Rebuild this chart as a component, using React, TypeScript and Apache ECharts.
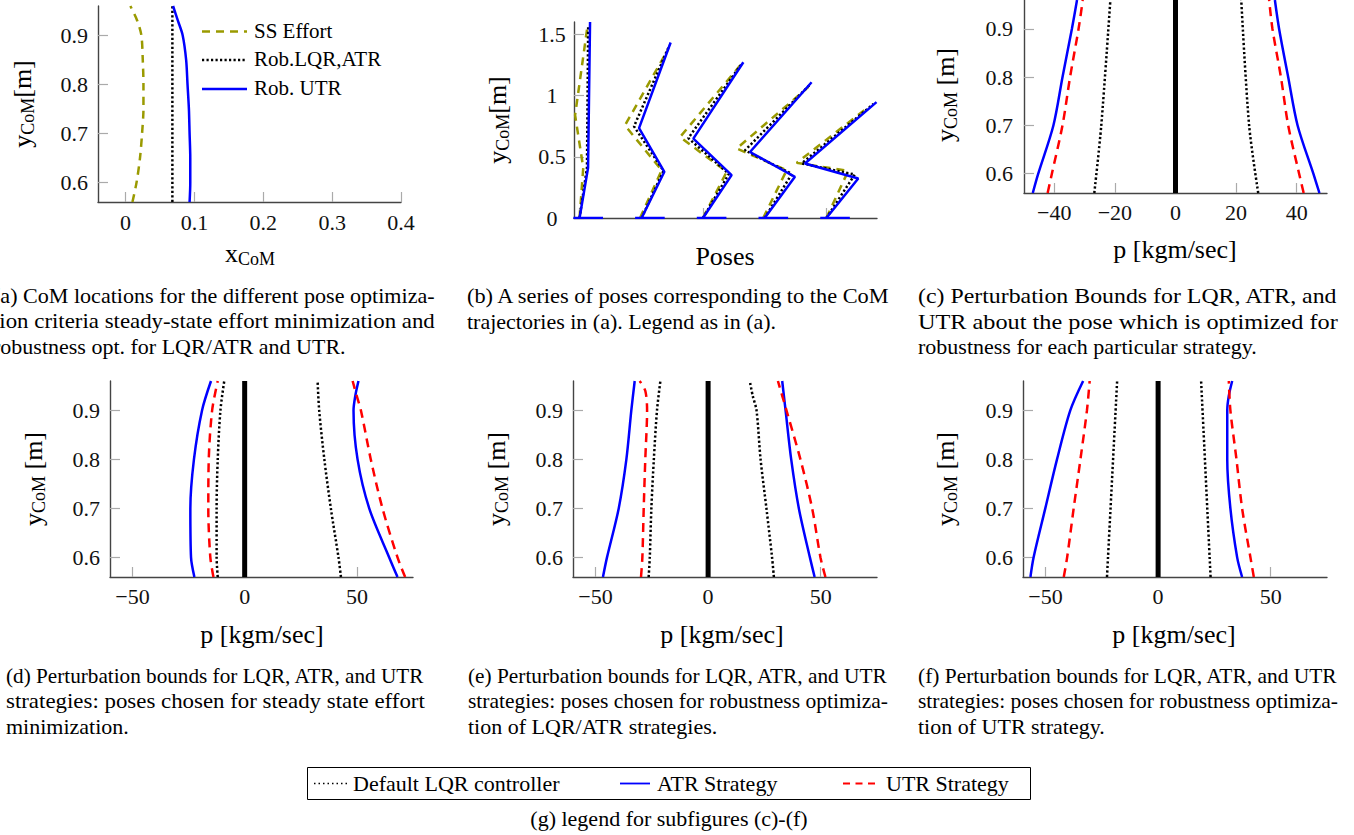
import React, { useEffect, useRef } from "react";
import * as echarts from "echarts";

const SERIF = "Liberation Serif";
const OLIVE = "#9a9a00";
const BLUE = "#0000ff";
const RED = "#ff0000";

// ---------- (a) CoM locations [x, y] ----------
const aSSEffort = [[0.010, 0.56], [0.016, 0.60], [0.021, 0.65], [0.024, 0.70], [0.026, 0.75], [0.026, 0.80], [0.025, 0.85], [0.023, 0.90], [0.017, 0.93], [0.007, 0.96]];
const aRobLQRATR = [[0.068, 0.56], [0.068, 0.96]];
const aRobUTR = [[0.093, 0.56], [0.094, 0.60], [0.094, 0.65], [0.093, 0.70], [0.092, 0.75], [0.090, 0.80], [0.088, 0.85], [0.083, 0.90], [0.076, 0.93], [0.069, 0.96]];

// ---------- (b) poses: ankle -> knee -> hip -> top ----------
const bSSPoses = [
  [[0.0, 0], [0.03, 0.41], [-0.036, 0.84], [0.062, 1.55]],
  [[0.49, 0], [0.665, 0.39], [0.368, 0.756], [0.719, 1.38]],
  [[1.0, 0], [1.192, 0.377], [0.814, 0.661], [1.30, 1.244]],
  [[1.488, 0], [1.678, 0.39], [1.273, 0.567], [1.853, 1.068]],
  [[2.0, 0], [2.177, 0.385], [1.759, 0.45], [2.339, 0.905]],
];
const bLQRPoses = [
  [[0.0, 0], [0.06, 0.41], [0.07, 1.57]],
  [[0.503, 0], [0.68, 0.385], [0.441, 0.748], [0.728, 1.41]],
  [[1.0, 0], [1.21, 0.36], [0.881, 0.652], [1.313, 1.258]],
  [[1.5, 0], [1.72, 0.36], [1.34, 0.552], [1.866, 1.088]],
  [[2.0, 0], [2.23, 0.355], [1.80, 0.446], [2.38, 0.93]],
];
const bUTRPoses = [
  [[0.0, 0], [0.069, 0.41], [0.085, 1.6]],
  [[0.503, 0], [0.687, 0.377], [0.482, 0.734], [0.738, 1.433]],
  [[1.0, 0], [1.232, 0.35], [0.922, 0.648], [1.327, 1.271]],
  [[1.5, 0], [1.745, 0.336], [1.381, 0.539], [1.88, 1.108]],
  [[2.0, 0], [2.258, 0.323], [1.826, 0.445], [2.406, 0.946]],
];
const bFeet = [[-0.05, 0.19], [0.45, 0.69], [0.95, 1.19], [1.45, 1.69], [1.95, 2.19]];

// ---------- (c) ----------
const cLQRLeft = [[-26.8, 0.56], [-24.5, 0.7], [-21.5, 0.96]];
const cLQRRight = [[27.3, 0.56], [24.3, 0.7], [21.7, 0.96]];
const cATRLeft = [[-47.1, 0.56], [-45.3, 0.6], [-40.3, 0.7], [-37.3, 0.8], [-34.2, 0.9], [-32.5, 0.96]];
const cATRRight = [[47.5, 0.56], [45.5, 0.6], [40.3, 0.7], [37.2, 0.8], [34.2, 0.9], [32.8, 0.96]];
const cUTRLeft = [[-42.2, 0.56], [-40.8, 0.6], [-37.3, 0.7], [-34.8, 0.8], [-32.0, 0.9], [-30.6, 0.96]];
const cUTRRight = [[42.3, 0.56], [40.8, 0.6], [37.2, 0.7], [34.8, 0.8], [32.0, 0.9], [30.9, 0.96]];

// ---------- (d) ----------
const dLQRLeft = [[-12.0, 0.56], [-12.5, 0.6], [-12.5, 0.7], [-12.0, 0.8], [-10.8, 0.9], [-9.1, 0.96]];
const dLQRRight = [[42.9, 0.56], [41.8, 0.6], [38.4, 0.7], [35.5, 0.8], [33.2, 0.9], [32.5, 0.96]];
const dATRLeft = [[-22.4, 0.56], [-23.9, 0.6], [-24.2, 0.7], [-22.6, 0.8], [-19.0, 0.9], [-15.0, 0.96]];
const dATRRight = [[68.1, 0.56], [64.4, 0.6], [55.5, 0.7], [50.3, 0.8], [48.5, 0.9], [49.3, 0.93], [50.7, 0.96]];
const dUTRLeft = [[-13.9, 0.56], [-15.3, 0.6], [-16.2, 0.7], [-16.0, 0.8], [-14.5, 0.9], [-12.0, 0.96]];
const dUTRRight = [[71.5, 0.56], [68.1, 0.6], [61.4, 0.7], [56.2, 0.8], [51.8, 0.9], [49.9, 0.93], [48.1, 0.96]];

// ---------- (e) ----------
const eLQRLeft = [[-26.4, 0.56], [-25.9, 0.6], [-25.2, 0.7], [-24.1, 0.8], [-22.7, 0.9], [-21.2, 0.96]];
const eLQRRight = [[29.2, 0.56], [28.4, 0.6], [25.9, 0.7], [23.3, 0.8], [21.5, 0.9], [19.8, 0.93], [18.5, 0.96]];
const eATRLeft = [[-46.7, 0.56], [-44.9, 0.6], [-39.7, 0.7], [-36.3, 0.8], [-34.1, 0.9], [-32.6, 0.96]];
const eATRRight = [[47.3, 0.56], [45.2, 0.6], [40.3, 0.7], [36.9, 0.8], [34.4, 0.9], [32.9, 0.96]];
const eUTRLeft = [[-29.8, 0.56], [-29.2, 0.6], [-28.6, 0.7], [-27.9, 0.8], [-27.1, 0.9], [-27.9, 0.94], [-30.4, 0.96]];
const eUTRRight = [[52.1, 0.56], [49.9, 0.6], [46.2, 0.7], [41.0, 0.8], [34.8, 0.9], [31.0, 0.96]];

// ---------- (f) ----------
const fLQRLeft = [[-22.7, 0.56], [-18.2, 0.96]];
const fLQRRight = [[23.3, 0.56], [19.1, 0.96]];
const fATRLeft = [[-56.7, 0.56], [-55.3, 0.6], [-50.1, 0.7], [-44.9, 0.8], [-39.0, 0.9], [-33.3, 0.96]];
const fATRRight = [[37.3, 0.56], [35.1, 0.6], [32.1, 0.7], [30.7, 0.8], [30.7, 0.9], [31.4, 0.93], [32.9, 0.96]];
const fUTRLeft = [[-41.9, 0.56], [-40.4, 0.6], [-37.5, 0.7], [-34.5, 0.8], [-31.6, 0.9], [-30.4, 0.96]];
const fUTRRight = [[42.5, 0.56], [41.0, 0.6], [37.3, 0.7], [34.8, 0.8], [32.1, 0.9], [31.4, 0.96]];

const zeroLine = [[0, 0.56], [0, 0.96]];

// ---------- ticks ----------
const aXTicks = [0, 0.1, 0.2, 0.3, 0.4];
const comYTicks = [0.6, 0.7, 0.8, 0.9];
const bXTicks = [0, 1, 2];
const bYTicks = [0, 0.5, 1, 1.5];
const cXTicks = [-40, -20, 0, 20, 40];
const dfXTicks = [-50, 0, 50];

// ---------- texts ----------
const legendA = ["SS Effort", "Rob.LQR,ATR", "Rob. UTR"];
const legendG = ["Default LQR controller", "ATR Strategy", "UTR Strategy"];
const capA = ["(a) CoM locations for the different pose optimiza-", "tion criteria steady-state effort minimization and", "robustness opt. for LQR/ATR and UTR."];
const capB = ["(b) A series of poses corresponding to the CoM", "trajectories in (a). Legend as in (a)."];
const capC = ["(c) Perturbation Bounds for LQR, ATR, and", "UTR about the pose which is optimized for", "robustness for each particular strategy."];
const capD = ["(d) Perturbation bounds for LQR, ATR, and UTR", "strategies: poses chosen for steady state effort", "minimization."];
const capE = ["(e) Perturbation bounds for LQR, ATR, and UTR", "strategies: poses chosen for robustness optimiza-", "tion of LQR/ATR strategies."];
const capF = ["(f) Perturbation bounds for LQR, ATR, and UTR", "strategies: poses chosen for robustness optimiza-", "tion of UTR strategy."];
const capG = "(g) legend for subfigures (c)-(f)";

let measureCtx: CanvasRenderingContext2D | null = null;
function measure(text: string, size: number): number {
  if (!measureCtx) measureCtx = document.createElement("canvas").getContext("2d");
  measureCtx!.font = `${size}px ${SERIF}`;
  return measureCtx!.measureText(text).width;
}

function txt(text: string, x: number, y: number, size: number, align = "left", extra: any = {}) {
  return {
    type: "text",
    x,
    y,
    silent: true,
    ...extra,
    style: {
      text,
      fontSize: size,
      fontFamily: SERIF,
      fill: "#000",
      align,
      textAlign: align,
      verticalAlign: "middle",
      textVerticalAlign: "middle",
    },
  };
}

function composite(parts: { t: string; s: number; dy: number }[], cx: number, cy: number, rotated: boolean) {
  const widths = parts.map((p) => measure(p.t, p.s));
  const total = widths.reduce((a, b) => a + b, 0);
  let acc = -total / 2;
  const children = parts.map((p, i) => {
    const el = txt(p.t, acc, p.dy, p.s);
    acc += widths[i];
    return el;
  });
  return { type: "group", x: cx, y: cy, rotation: rotated ? Math.PI / 2 : 0, children };
}

function caption(lines: string[], x0: number, x1: number, y0: number) {
  const size = 22;
  const lh = 25;
  return lines.map((line, i) => {
    const last = i === lines.length - 1;
    const nat = measure(line, size);
    const sx = last ? 1 : (x1 - x0) / nat;
    return txt(line, x0, y0 + i * lh, size, "left", { scaleX: sx, originX: 0 });
  });
}

const fmt = (v: number) => String(v).replace("-", "\u2212");

function xAxis(gi: number, min: number, max: number, ticks: number[], show = true, margin = 8) {
  return {
    type: "value",
    gridIndex: gi,
    min,
    max,
    axisLine: { show: true, onZero: false, lineStyle: { color: "#444", width: 1.4 } },
    axisTick: { show: true, inside: true, length: 10, customValues: ticks, lineStyle: { color: "#aaa", width: 1.2 } },
    axisLabel: { show, customValues: ticks, formatter: fmt, fontFamily: SERIF, fontSize: 22, color: "#111", margin },
    splitLine: { show: false },
  };
}
function yAxis(gi: number, min: number, max: number, ticks: number[], margin = 10, align?: string) {
  return {
    type: "value",
    gridIndex: gi,
    min,
    max,
    axisLine: { show: true, onZero: false, lineStyle: { color: "#444", width: 1.4 } },
    axisTick: { show: true, inside: true, length: 10, customValues: ticks, lineStyle: { color: "#aaa", width: 1.2 } },
    axisLabel: { show: true, customValues: ticks, formatter: fmt, fontFamily: SERIF, fontSize: 22, color: "#111", margin, ...(align ? { align } : {}) },
    splitLine: { show: false },
  };
}

const ST: Record<string, any> = {
  ss: { color: OLIVE, width: 2.5, type: [8, 6] },
  lqr: { color: "#000", width: 2.5, type: [2.2, 2.3] },
  blue: { color: BLUE, width: 2.5, type: "solid" },
  red: { color: RED, width: 2.5, type: [9, 6] },
  zero: { color: "#000", width: 5, type: "solid" },
};

function ln(name: string, data: number[][], gi: number, style: string, smooth: number | boolean = 0.3) {
  return {
    type: "line",
    name,
    data,
    xAxisIndex: gi,
    yAxisIndex: gi,
    symbol: "none",
    smooth,
    silent: true,
    clip: true,
    lineStyle: ST[style],
    itemStyle: { color: ST[style].color },
  };
}

function buildOption() {
  const series: any[] = [];
  // (a)
  series.push(ln("SS Effort", aSSEffort, 0, "ss"));
  series.push(ln("Rob.LQR,ATR", aRobLQRATR, 0, "lqr", false));
  series.push(ln("Rob. UTR", aRobUTR, 0, "blue"));
  // (b)
  bSSPoses.forEach((p) => series.push(ln("SS Effort", p, 1, "ss", false)));
  bLQRPoses.forEach((p) => series.push(ln("Rob.LQR,ATR", p, 1, "lqr", false)));
  bUTRPoses.forEach((p) => series.push(ln("Rob. UTR", p, 1, "blue", false)));
  bFeet.forEach((f) => series.push(ln("foot", [[f[0], 0], [f[1], 0]], 1, "blue", false)));
  // (c)-(f)
  const bounds = [
    [cLQRLeft, cLQRRight, cATRLeft, cATRRight, cUTRLeft, cUTRRight],
    [dLQRLeft, dLQRRight, dATRLeft, dATRRight, dUTRLeft, dUTRRight],
    [eLQRLeft, eLQRRight, eATRLeft, eATRRight, eUTRLeft, eUTRRight],
    [fLQRLeft, fLQRRight, fATRLeft, fATRRight, fUTRLeft, fUTRRight],
  ];
  bounds.forEach((b, k) => {
    const gi = k + 2;
    series.push(ln("Default LQR controller", b[0], gi, "lqr"));
    series.push(ln("Default LQR controller", b[1], gi, "lqr"));
    series.push(ln("ATR Strategy", b[2], gi, "blue"));
    series.push(ln("ATR Strategy", b[3], gi, "blue"));
    series.push(ln("UTR Strategy", b[4], gi, "red"));
    series.push(ln("UTR Strategy", b[5], gi, "red"));
    series.push(ln("zero", zeroLine, gi, "zero", false));
  });

  const graphic: any[] = [];
  // legend (a)
  const legAY = [31.5, 60, 89];
  const legAStyles = [
    { stroke: OLIVE, lineWidth: 2.5, lineDash: [8, 6] },
    { stroke: "#000", lineWidth: 2.5, lineDash: [2.2, 2.3] },
    { stroke: BLUE, lineWidth: 2.5 },
  ];
  legendA.forEach((name, i) => {
    graphic.push({ type: "line", silent: true, shape: { x1: 202, y1: legAY[i], x2: 247, y2: legAY[i] }, style: legAStyles[i] });
    graphic.push(txt(name, 254, legAY[i] - 1, 21));
  });

  // axis titles
  const sub = (main: string, tail: string) => [
    { t: main, s: 26, dy: 0 },
    { t: "CoM", s: 18, dy: 6 },
    ...(tail ? [{ t: tail, s: 26, dy: 0 }] : []),
  ];
  graphic.push(composite(sub("x", ""), 250, 253, false));
  graphic.push(composite(sub("y", "[m]"), 22, 104, true));
  graphic.push(composite(sub("y", "[m]"), 497, 120, true));
  graphic.push(composite(sub("y", " [m]"), 945, 95, true));
  graphic.push(composite(sub("y", " [m]"), 33, 479, true));
  graphic.push(composite(sub("y", " [m]"), 496, 479, true));
  graphic.push(composite(sub("y", " [m]"), 945, 479, true));
  graphic.push(txt("Poses", 725, 256, 26, "center"));
  graphic.push(txt("p [kgm/sec]", 1175, 249, 26, "center"));
  graphic.push(txt("p [kgm/sec]", 262, 634, 26, "center"));
  graphic.push(txt("p [kgm/sec]", 722, 634, 26, "center"));
  graphic.push(txt("p [kgm/sec]", 1174, 634, 26, "center"));

  // captions
  graphic.push(...caption(capA, -7, 435, 296));
  graphic.push(...caption(capB, 467, 891, 296));
  graphic.push(...caption(capC, 918, 1338, 296));
  graphic.push(...caption(capD, 6, 425, 676));
  graphic.push(...caption(capE, 468, 888, 676));
  graphic.push(...caption(capF, 918, 1338, 676));

  // legend (g)
  graphic.push({ type: "rect", silent: true, shape: { x: 307.5, y: 767.5, width: 723, height: 32 }, style: { fill: "#fff", stroke: "#000", lineWidth: 1 } });
  const gy = 783.5;
  graphic.push({ type: "line", silent: true, shape: { x1: 314, y1: gy, x2: 347, y2: gy }, style: { stroke: "#000", lineWidth: 1.6, lineDash: [1.5, 3] } });
  graphic.push(txt(legendG[0], 353, gy, 22));
  graphic.push({ type: "line", silent: true, shape: { x1: 620, y1: gy, x2: 650, y2: gy }, style: { stroke: BLUE, lineWidth: 1.8 } });
  graphic.push(txt(legendG[1], 657, gy, 22));
  graphic.push({ type: "line", silent: true, shape: { x1: 843, y1: gy, x2: 876, y2: gy }, style: { stroke: RED, lineWidth: 2, lineDash: [7, 5.5] } });
  graphic.push(txt(legendG[2], 886, gy, 22));
  graphic.push(txt(capG, 669, 818, 22, "center"));

  return {
    animation: false,
    backgroundColor: "#fff",
    textStyle: { fontFamily: SERIF },
    grid: [
      { left: 98, top: 6, width: 303, height: 196 },
      { left: 574, top: 22, width: 303, height: 196 },
      { left: 1024, top: -4, width: 303, height: 197 },
      { left: 110, top: 381, width: 303, height: 196 },
      { left: 573, top: 381, width: 304, height: 196 },
      { left: 1023, top: 381, width: 304, height: 196 },
    ],
    xAxis: [
      xAxis(0, -0.04, 0.4, aXTicks, true, 9),
      xAxis(1, -0.045, 2.41, bXTicks, false),
      xAxis(2, -50, 50, cXTicks, true, 8),
      xAxis(3, -60, 75, dfXTicks, true, 8),
      xAxis(4, -60, 75, dfXTicks, true, 8),
      xAxis(5, -60, 75, dfXTicks, true, 8),
    ],
    yAxis: [
      yAxis(0, 0.56, 0.96, comYTicks, 10),
      yAxis(1, 0, 1.6, bYTicks, 22, "center"),
      yAxis(2, 0.56, 0.96, comYTicks, 11),
      yAxis(3, 0.56, 0.96, comYTicks, 10),
      yAxis(4, 0.56, 0.96, comYTicks, 10),
      yAxis(5, 0.56, 0.96, comYTicks, 10),
    ],
    series,
    graphic: { elements: graphic },
  };
}

export default function App() {
  const ref = useRef<HTMLDivElement>(null);
  useEffect(() => {
    document.body.style.margin = "0";
    const chart = echarts.init(ref.current!, null, { renderer: "svg" });
    chart.setOption(buildOption() as any);
    return () => chart.dispose();
  }, []);
  return <div ref={ref} style={{ width: 1354, height: 835 }} />;
}
